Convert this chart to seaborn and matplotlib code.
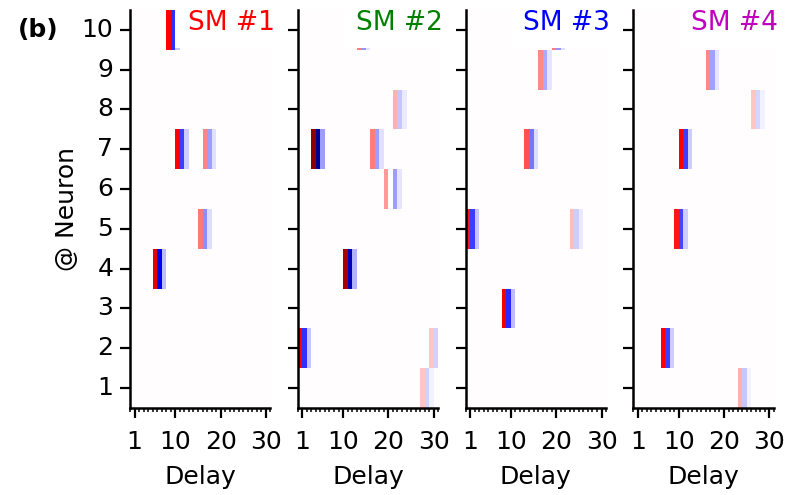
import numpy as np
import pandas as pd
import seaborn as sns
import matplotlib.pyplot as plt

# grid of the synaptic maps
neurons = list(range(10, 0, -1))   # top row first
delays = list(range(0, 31))
background = 0.004

# SM #1 cells: neuron, delay, weight
sm1_neuron = [10, 10, 10, 7, 7, 7, 7, 7, 7, 5, 5, 5, 4, 4, 4]
sm1_delay = [8, 9, 10, 10, 11, 12, 16, 17, 18, 15, 16, 17, 5, 6, 7]
sm1_weight = [0.5, -0.4, -0.11, 0.5, -0.38, -0.1, 0.24, -0.19, -0.06,
              0.26, -0.22, -0.07, 0.6, -0.55, -0.13]

# SM #2
sm2_neuron = [10, 10, 10, 8, 8, 8, 7, 7, 7, 7, 7, 7, 6, 6, 6,
              4, 4, 4, 2, 2, 2, 2, 2, 1, 1, 1]
sm2_delay = [13, 14, 15, 21, 22, 23, 3, 4, 5, 16, 17, 18, 19, 21, 22,
             10, 11, 12, 0, 1, 2, 29, 30, 27, 28, 29]
sm2_weight = [0.25, -0.21, -0.06, 0.15, -0.11, -0.04, 0.95, -0.82, -0.19,
              0.25, -0.19, -0.06, 0.2, -0.19, -0.05, 0.83, -0.71, -0.15,
              0.5, -0.4, -0.11, 0.11, -0.09, 0.11, -0.09, -0.03]

# SM #3
sm3_neuron = [10, 10, 10, 9, 9, 9, 7, 7, 7, 5, 5, 5, 5, 5, 5, 3, 3, 3]
sm3_delay = [19, 20, 21, 16, 17, 18, 13, 14, 15, 0, 1, 2, 23, 24, 25, 8, 9, 10]
sm3_weight = [0.25, -0.21, -0.06, 0.23, -0.17, -0.05, 0.34, -0.27, -0.07,
              0.46, -0.38, -0.11, 0.13, -0.1, -0.04, 0.56, -0.42, -0.13]

# SM #4
sm4_neuron = [9, 9, 9, 8, 8, 8, 7, 7, 7, 5, 5, 5, 2, 2, 2, 1, 1, 1]
sm4_delay = [16, 17, 18, 26, 27, 28, 10, 11, 12, 9, 10, 11, 6, 7, 8, 23, 24, 25]
sm4_weight = [0.23, -0.18, -0.05, 0.11, -0.08, -0.03, 0.5, -0.38, -0.1,
              0.46, -0.36, -0.1, 0.5, -0.38, -0.1, 0.15, -0.11, -0.03]

titles = ["SM #1", "SM #2", "SM #3", "SM #4"]
title_colors = ["r", "g", "b", "m"]
maps = [(sm1_neuron, sm1_delay, sm1_weight),
        (sm2_neuron, sm2_delay, sm2_weight),
        (sm3_neuron, sm3_delay, sm3_weight),
        (sm4_neuron, sm4_delay, sm4_weight)]


def build(nrn, dly, w):
    df = pd.DataFrame(background, index=neurons, columns=delays)
    for n, d, v in zip(nrn, dly, w):
        df.loc[n, d] = v
    return df


fig, axes = plt.subplots(1, 4, figsize=(7.94, 4.95), dpi=100)
plt.subplots_adjust(left=0.1637, right=0.9746, top=0.9798, bottom=0.1758, wspace=0.194)

for i, ax in enumerate(axes):
    sm = build(*maps[i])
    sns.heatmap(sm, ax=ax, cmap="seismic", vmin=-1, vmax=1, cbar=False)
    ax.set_xlim(0, 31)
    ax.set_ylim(10, 0)
    for side in ["left", "bottom"]:
        ax.spines[side].set_visible(True)
        ax.spines[side].set_linewidth(1.8)
    ax.set_xticks([1, 10, 20, 30])
    ax.set_xticklabels(["1", "10", "20", "30"], rotation=0, fontsize=18)
    ax.set_xticks(range(0, 32), minor=True)
    ax.set_yticks(np.arange(10) + 0.5)
    if i == 0:
        ax.set_yticklabels([str(n) for n in neurons], rotation=0, fontsize=18)
        ax.set_ylabel("@ Neuron", fontsize=18, labelpad=2)
    else:
        ax.set_yticklabels([])
        ax.set_ylabel("")
    ax.set_xlabel("Delay", fontsize=18, labelpad=8)
    ax.tick_params(which="major", length=7, width=1.6, pad=5)
    ax.tick_params(axis="x", which="major", pad=9)
    ax.tick_params(axis="x", which="minor", length=3, width=1.1)
    ax.text(1.03, 1.0, titles[i], transform=ax.transAxes, ha="right", va="top",
            fontsize=19, color=title_colors[i],
            bbox=dict(facecolor="white", edgecolor="none", pad=9))

fig.text(0.022, 0.939, "(b)", fontsize=18, fontweight="bold", va="center", ha="left")

plt.savefig("out.png", dpi=100)
